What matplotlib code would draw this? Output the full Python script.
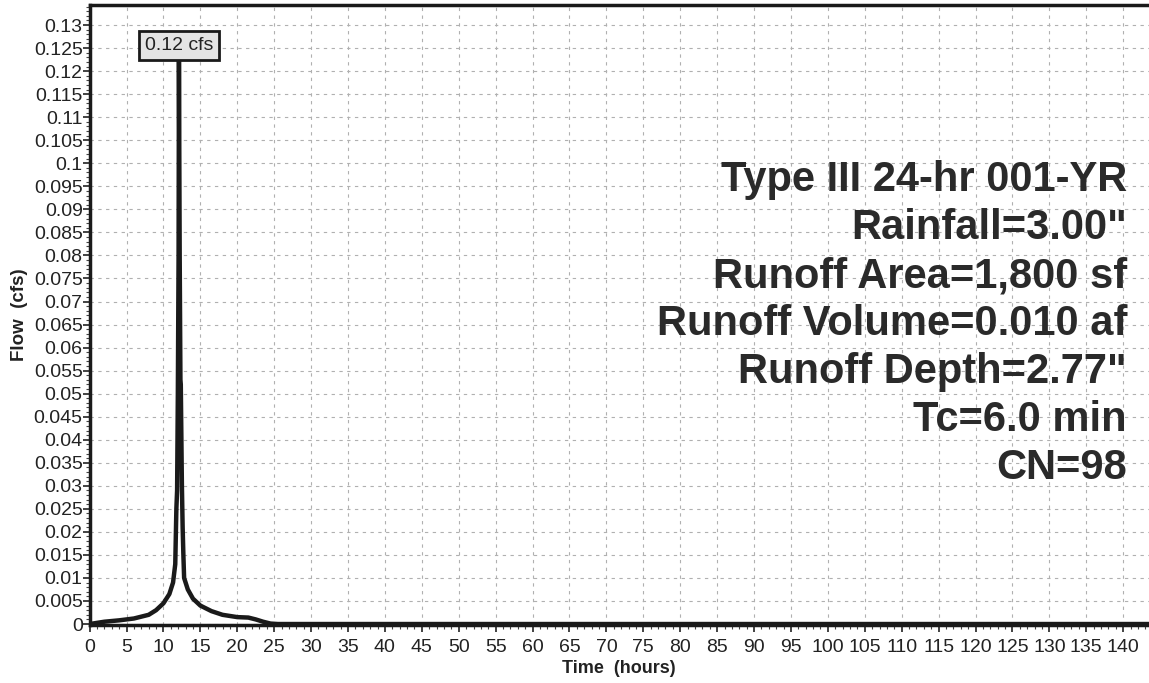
import matplotlib.pyplot as plt
from matplotlib.ticker import MultipleLocator
import numpy as np

# hydrograph (hours, cfs)
time_hr = [0, 2, 4, 6, 8, 9, 10, 10.8, 11.3, 11.6, 11.75, 11.85, 11.95, 12.05, 12.1,
           12.2, 12.3, 12.35, 12.5, 12.6, 12.7, 12.8, 13.3, 14, 15, 16.5, 18, 20, 21.5,
           22.5, 23.5, 24.5, 25.5, 143.5]
flow_cfs = [0, 0.0005, 0.0008, 0.0012, 0.002, 0.003, 0.0045, 0.0065, 0.009, 0.013,
            0.025, 0.029, 0.05, 0.08, 0.1222,
            0.08, 0.053, 0.052, 0.03, 0.021, 0.015, 0.01, 0.0075, 0.0055, 0.004, 0.0028,
            0.002, 0.0015, 0.0014, 0.001, 0.0005, 0.0001, 0, 0]

peak_label = "0.12 cfs"
info_lines = ['Type III 24-hr 001-YR', 'Rainfall=3.00"', 'Runoff Area=1,800 sf',
              'Runoff Volume=0.010 af', 'Runoff Depth=2.77"', 'Tc=6.0 min', 'CN=98']

plt.rcParams['font.family'] = ['Liberation Sans', 'DejaVu Sans']

fig = plt.figure(figsize=(11.49, 6.83), dpi=100)
ax = fig.add_axes([0.078, 0.085, 0.922, 0.908])

ax.plot(time_hr, flow_cfs, color='#1a1a1a', lw=3.2, solid_joinstyle='round')

ax.set_xlim(0, 143.5)
ax.set_ylim(-0.0002, 0.1344)
ax.xaxis.set_major_locator(MultipleLocator(5))
ax.xaxis.set_minor_locator(MultipleLocator(1))
ax.yaxis.set_major_locator(MultipleLocator(0.005))
ax.yaxis.set_minor_locator(MultipleLocator(0.001))
ax.yaxis.set_major_formatter(plt.FuncFormatter(lambda v, p: ('%.3f' % v).rstrip('0').rstrip('.') if v > 1e-9 else '0'))
ax.tick_params(axis='both', which='major', labelsize=14, length=5, width=1.2, colors='#222222')
ax.tick_params(axis='both', which='minor', length=3, width=0.8, colors='#444444')
ax.tick_params(axis='x', pad=5)
ax.tick_params(axis='y', pad=0)

ax.grid(True, which='major', color='#b0b0b0', ls=(0, (3, 4)), lw=0.8)
for side in ['left', 'bottom', 'top']:
    ax.spines[side].set_linewidth(2.5)
    ax.spines[side].set_color('#1a1a1a')
ax.spines['right'].set_visible(False)

ax.set_xlabel('Time  (hours)', fontsize=13, fontweight='bold', color='#222222', labelpad=3)
ax.set_ylabel('Flow  (cfs)', fontsize=13.5, fontweight='bold', color='#222222')
ax.yaxis.set_label_coords(-0.0585, 0.50)

# peak label with leader line
peak_i = int(np.argmax(flow_cfs))
ax.annotate(peak_label, xy=(time_hr[peak_i], flow_cfs[peak_i]), xytext=(time_hr[peak_i], 0.1255),
            ha='center', va='center', fontsize=14, color='#222222',
            bbox=dict(boxstyle='square,pad=0.3', fc='#e4e4e4', ec='#1a1a1a', lw=2),
            arrowprops=dict(arrowstyle='-', color='#1a1a1a', lw=1.8, shrinkA=0, shrinkB=0))

for i, line in enumerate(info_lines):
    fig.text(1127 / 1149, 1 - (180 + 48 * i) / 683, line, ha='right', va='center',
             fontsize=30, fontweight='bold', color='#2a2a2a')

fig.savefig('out.png', dpi=100)
